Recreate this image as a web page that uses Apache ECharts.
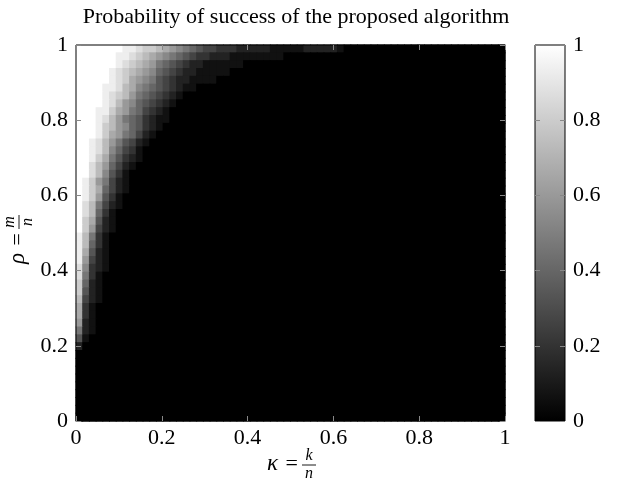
<!DOCTYPE html>
<html><head><meta charset="utf-8">
<script src="https://cdn.jsdelivr.net/npm/echarts@6/dist/echarts.min.js"></script>
<style>html,body{margin:0;padding:0;background:#fff}#c{width:620px;height:488px}</style>
</head><body><div id="c"></div>
<script>
// grid resolution of the heatmap (columns along kappa, rows along rho)
var NX = 64, NY = 48;
// Success probability, one string per row from rho = 1 (top) downwards.
// Each hex digit is a cell value (0..f => 0..1); cells beyond the string are 0.
var rowsTopDown = [
  "fffffffeedccba98765443332222211111222221",
  "ffffffeedcba9876543322211111111",
  "ffffffedcba97654322111111",
  "fffffedcba9865432211111",
  "fffffedca987543221111",
  "ffffeedba876543211",
  "ffffedcb97654321",
  "ffffedb98654321",
  "fffeeca9764321",
  "fffedb97653211",
  "fffecb9865321",
  "fffeca976421",
  "ffedb975421",
  "ffedb86431",
  "ffeca75321",
  "ffdb96421",
  "ffdb8531",
  "fec97421",
  "feca6421",
  "fec9531",
  "fdb7421",
  "fdb631",
  "fca521",
  "fc9421",
  "eb731",
  "eb631",
  "ea521",
  "e9421",
  "d8321",
  "d731",
  "c621",
  "c521",
  "b421",
  "a31",
  "a31",
  "921",
  "721",
  "51",
  "2"
];
var kappaTicks = [0, 0.2, 0.4, 0.6, 0.8, 1];
var rhoTicks = [0, 0.2, 0.4, 0.6, 0.8, 1];
var colorbarTicks = [0, 0.2, 0.4, 0.6, 0.8, 1];
var titleText = "Probability of success of the proposed algorithm";

var kappaCats = [], rhoCats = [];
for (var i = 0; i < NX; i++) kappaCats.push(String(i));
for (var j = 0; j < NY; j++) rhoCats.push(String(j));
var heat = [];
for (var r = 0; r < NY; r++) {
  var s = rowsTopDown[r] || "";
  for (var c = 0; c < NX; c++) {
    var v = c < s.length ? parseInt(s.charAt(c), 16) / 15 : 0;
    heat.push([c, NY - 1 - r, v]);
  }
}

var FONT = "Liberation Serif";
var G = {left: 76, top: 45, width: 429, height: 376};
var CB = {left: 535, top: 45, width: 30, height: 376};
var tickStyle = {show: true, inside: true, length: 5, lineStyle: {color: '#888', width: 1}};
var labelStyle = {color: '#000', fontFamily: FONT, fontSize: 22};

function frac(x, y, rot, sym, num, den) {
  return {
    type: 'group', x: x, y: y, rotation: rot, silent: true,
    children: [
      {type: 'text', x: -4, y: 0, style: {text: '=', fontFamily: FONT, fontSize: 22, fill: '#000', align: 'right', verticalAlign: 'middle'}},
      {type: 'text', x: -24, y: 0, style: {text: sym, fontFamily: FONT, fontStyle: 'italic', fontSize: 23, fill: '#000', align: 'right', verticalAlign: 'middle'}},
      {type: 'text', x: 7, y: -8, style: {text: num, fontFamily: FONT, fontStyle: 'italic', fontSize: 16, fill: '#000', align: 'center', verticalAlign: 'middle'}},
      {type: 'line', shape: {x1: 0, y1: 1, x2: 14, y2: 1}, style: {stroke: '#000', lineWidth: 0.9}},
      {type: 'text', x: 7, y: 10, style: {text: den, fontFamily: FONT, fontStyle: 'italic', fontSize: 16, fill: '#000', align: 'center', verticalAlign: 'middle'}}
    ]
  };
}

function renderCell(params, api) {
  var p = api.coord([api.value(0), api.value(1)]);
  var sz = api.size([1, 1]);
  return {
    type: 'rect',
    shape: {x: p[0] - sz[0] / 2 - 0.5, y: p[1] - sz[1] / 2 - 0.5, width: sz[0] + 1, height: sz[1] + 1},
    style: {fill: api.visual('color')}
  };
}

var chart = echarts.init(document.getElementById('c'), null, {renderer: 'canvas'});
chart.setOption({
  animation: false,
  backgroundColor: '#fff',
  title: {text: titleText, left: 291, top: 1, textAlign: 'center',
    textStyle: {fontFamily: FONT, fontSize: 22, fontWeight: 'normal', color: '#000'}},
  grid: [
    {left: G.left, top: G.top, width: G.width, height: G.height, show: true, borderColor: '#000', borderWidth: 1, backgroundColor: 'transparent', z: 10},
    {left: CB.left, top: CB.top, width: CB.width, height: CB.height, show: true, borderColor: '#000', borderWidth: 1, backgroundColor: 'transparent', z: 10}
  ],
  xAxis: [
    {type: 'category', gridIndex: 0, data: kappaCats, show: false},
    {type: 'value', gridIndex: 0, min: kappaTicks[0], max: kappaTicks[kappaTicks.length - 1], interval: 0.2, position: 'bottom', z: 10,
      axisLine: {show: false}, axisTick: tickStyle, splitLine: {show: false},
      axisLabel: Object.assign({margin: 6}, labelStyle)},
    {type: 'value', gridIndex: 0, min: 0, max: 1, interval: 0.2, position: 'top', z: 10,
      axisLine: {show: false}, axisTick: tickStyle, splitLine: {show: false}, axisLabel: {show: false}},
    {type: 'category', gridIndex: 1, data: ['bar'], show: false}
  ],
  yAxis: [
    {type: 'category', gridIndex: 0, data: rhoCats, show: false},
    {type: 'value', gridIndex: 0, min: rhoTicks[0], max: rhoTicks[rhoTicks.length - 1], interval: 0.2, position: 'left', z: 10,
      axisLine: {show: false}, axisTick: tickStyle, splitLine: {show: false},
      axisLabel: Object.assign({margin: 8}, labelStyle)},
    {type: 'value', gridIndex: 0, min: 0, max: 1, interval: 0.2, position: 'right', z: 10,
      axisLine: {show: false}, axisTick: tickStyle, splitLine: {show: false}, axisLabel: {show: false}},
    {type: 'value', gridIndex: 1, min: colorbarTicks[0], max: colorbarTicks[colorbarTicks.length - 1], interval: 0.2, position: 'right', z: 10,
      axisLine: {show: false}, axisTick: tickStyle, splitLine: {show: false},
      axisLabel: Object.assign({margin: 8}, labelStyle)},
    {type: 'value', gridIndex: 1, min: 0, max: 1, interval: 0.2, position: 'left', z: 10,
      axisLine: {show: false}, axisTick: tickStyle, splitLine: {show: false}, axisLabel: {show: false}}
  ],
  visualMap: {show: false, seriesIndex: 0, dimension: 2, min: 0, max: 1, calculable: false,
    inRange: {color: ['#000000', '#ffffff']}},
  series: [
    {type: 'custom', xAxisIndex: 0, yAxisIndex: 0, data: heat, renderItem: renderCell, silent: true, clip: true,
      encode: {x: 0, y: 1}},
    {type: 'bar', xAxisIndex: 3, yAxisIndex: 3, data: [colorbarTicks[colorbarTicks.length - 1]], barWidth: '100%', silent: true,
      itemStyle: {color: {type: 'linear', x: 0, y: 0, x2: 0, y2: 1, colorStops: [{offset: 0, color: '#ffffff'}, {offset: 1, color: '#000000'}]}}}
  ],
  graphic: [
    frac(302, 464, 0, 'κ', 'k', 'n'),
    frac(18, 229, Math.PI / 2, 'ρ', 'm', 'n')
  ]
});
</script></body></html>
